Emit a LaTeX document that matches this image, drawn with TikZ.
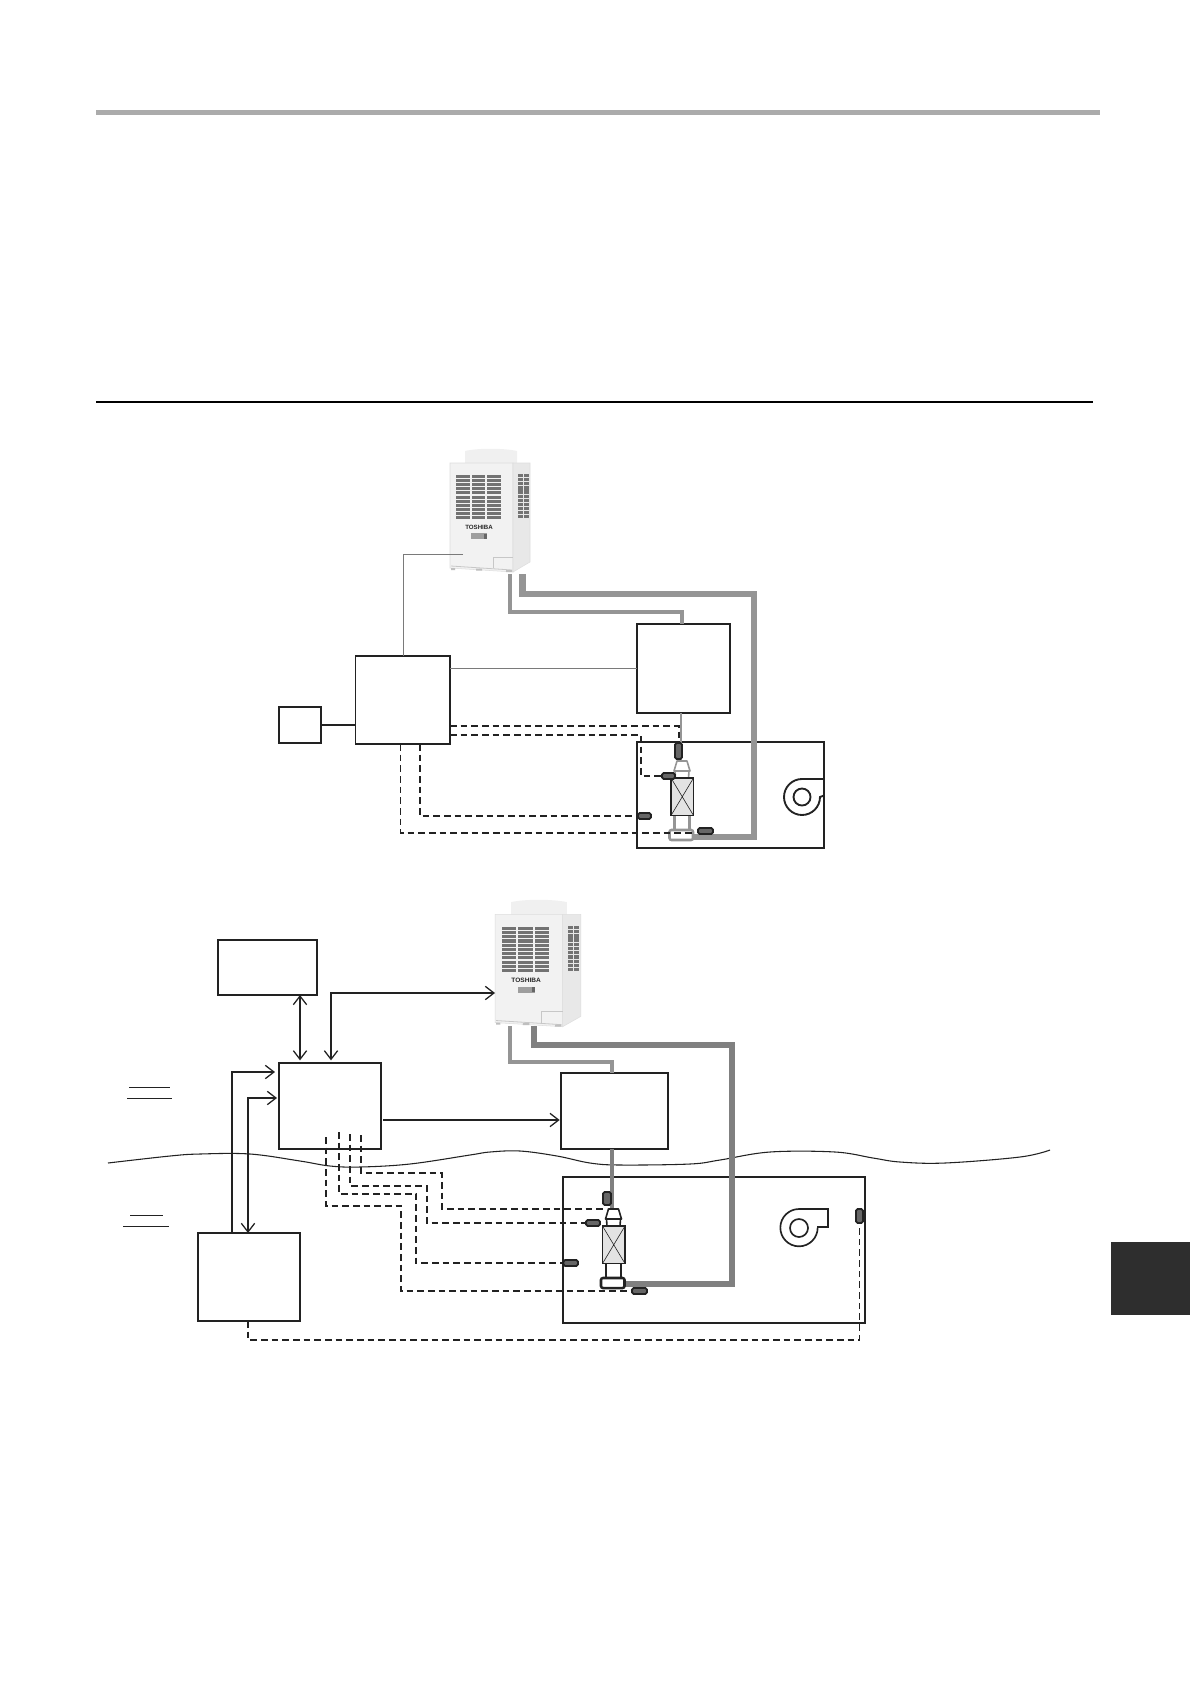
\documentclass[tikz,border=0pt]{standalone}
\usepackage{fontspec}
\setmainfont{Liberation Sans}
\usetikzlibrary{fit,arrows.meta}
\definecolor{pipeA}{HTML}{959595}
\definecolor{pipeB}{HTML}{808080}
\definecolor{ink}{HTML}{222222}
\colorlet{coilc}{ink}
\tikzset{
  barb/.tip={Straight Barb[length=6.5pt,width=10pt,line width=.95pt]},
  box/.style={draw=ink,line width=1.35pt,inner sep=0pt,outer sep=0pt,fill=white},
  sensor/.style={draw=ink,line width=1.4pt,fill=gray!80!black,rounded corners=1.2pt,inner sep=0pt,outer sep=0pt},
  dashline/.style={draw=ink,line width=.85pt,dash pattern=on 5pt off 3pt},
  dashheavy/.style={draw=ink,line width=1.1pt,dash pattern=on 5pt off 3pt},
  arrowline/.style={draw=ink,line width=.95pt},
  wire/.style={draw=black!52,line width=.75pt},
  odu/.pic={
    % cap
    \fill[black!6] (17,16) -- (17,3) .. controls (30,0) and (55,0) .. (69,3) -- (69,16) -- cycle;
    % faces
    \fill[black!5,draw=black!13,line width=.4pt] (2,15) -- (65,15) -- (65,124) -- (2,120) -- cycle;
    \fill[black!9,draw=black!13,line width=.4pt] (65,15) -- (82,15) -- (82,114) -- (65,124) -- cycle;
    % feet
    \draw[black!22,line width=.6pt] (3,118) -- (64,122);
    \fill[black!25] (3,120) rectangle (7,122) (58,122) rectangle (64,124) (28,120.5) rectangle (34,122.5);
    % access panel
    \draw[black!22,line width=.4pt] (45,120) -- (45,109) -- (65,109);
    % front grille
    \foreach \cx in {8,23.5,39}{
      \foreach \ry in {0,...,10}{
        \fill[black!55] (\cx,27+\ry*4.1) rectangle ++(13.5,3);
      }
    }
    % side grille
    \foreach \cx in {70,76}{
      \foreach \ry in {0,...,10}{
        \fill[black!55] (\cx,26+\ry*4.1) rectangle ++(4.6,3.2);
      }
    }
    \node[transform shape,font=\bfseries\fontsize{4.6}{5}\selectfont,text=black!85,inner sep=0pt] (-name) at (31,79) {TOSHIBA};
    \fill[black!38] (23,85) rectangle (39,91);
    \fill[black!60] (36,85.5) rectangle (39,90.5);
  },
  coilset/.pic={
    % cone
    \draw[coilc,line width=1.2pt,fill=white,line join=round] (-5,-17) -- (5,-17) -- (8,-7) -- (-8,-7) -- cycle;
    \draw[coilc,line width=1.2pt] (-7,-7) -- (-6.5,0) (7,-7) -- (6.5,0);
    % lower tubes and distributor
    \draw[coilc,line width=1.6pt] (-7.5,37) -- (-7.5,52) (7.5,37) -- (7.5,52);
    \draw[coilc,line width=1.9pt,fill=white,rounded corners=1.5pt] (-12.5,52) rectangle (11,62);
    % coil
    \draw[ink,line width=1.4pt,fill=black!11] (-11,0) rectangle (11.5,37.5);
    \draw[ink,line width=.45pt] (-11,0) -- (11.5,37.5) (11.5,0) -- (-11,37.5);
  },
}
\begin{document}
\begin{tikzpicture}[x=.75pt,y=-.75pt]
\fill[white] (0,0) rectangle (1190,1684);
\useasboundingbox (0,0) rectangle (1190,1684);

% page furniture
\fill[black!33] (96,109.5) rectangle (1100,114.5);
\draw[black,line width=1pt] (96,402) -- (1093,402);
\fill[black!82] (1111,1242) rectangle (1190,1315);

% ===== upper diagram =====
\pic (oduA) at (448,448) {odu};
\coordinate (oduAwire) at (463,554);
\coordinate (oduAthin) at (510,574);
\coordinate (oduAthick) at (522.7,574);

\node[box,fit={(355.5,656)(450,744)}] (ctrlA) {};
\node[box,fit={(279,707)(321,743)}] (smallA) {};
\node[box,fit={(637,624)(730,713)}] (unitA) {};
\node[box,fit={(637,742)(824,848)},fill=none] (ahuA) {};

% fan
\coordinate (fanA) at (802,797);
\draw[ink,line width=1.4pt] (fanA) circle (8.5*.75pt);
\draw[ink,line width=1.4pt] (ahuA.east |- 0,779) -- (802,779) arc[start angle=90,end angle=360,radius=13.5pt] -- (ahuA.east |- 0,795.5);

% pipes
\draw[pipeA,line width=2.6pt] (oduAthin) |- (682,612) -- (unitA.north -| 682,0);
\draw[pipeA,line width=5pt] (oduAthick) |- (754,594) |- (692,837);
\draw[pipeA,line width=2.2pt] (unitA.south -| 681,0) -- (681,762);
\draw[wire] (oduAwire) -| (ctrlA.north -| 403,0);
\draw[wire] (ctrlA.east |- 0,668) -- (unitA.west |- 0,668);
\draw[ink,line width=1.1pt] (smallA.east) -- (ctrlA.west |- smallA.east);

\colorlet{coilc}{pipeA}
\pic (coilA) at (682,778) {coilset};

\node[sensor,fit={(675,743)(682,759)}] (sA1) {};
\node[sensor,fit={(662,773)(675,779)}] (sA2) {};
\node[sensor,fit={(638,813)(651,819)}] (sA3) {};
\node[sensor,fit={(698,828)(713,834)}] (sA4) {};

\draw[dashline] (ctrlA.east |- 0,726) -| (sA1.north -| 679,0);
\draw[dashline] (ctrlA.east |- 0,735) -| (641,776) -- (sA2.west);
\draw[dashline] (ctrlA.south -| 420,0) |- (sA3.west);
\draw[dashheavy] (ctrlA.south -| 400.5,0) |- (692,833);

% ===== lower diagram =====
\pic[xscale=1.07,yscale=1.03] (oduB) at (493,899) {odu};
\coordinate (oduBarrow) at (495,993);
\coordinate (oduBthin) at (510,1026);
\coordinate (oduBthick) at (534,1026);

\node[box,fit={(218,940)(317,995)}] (mgr) {};
\node[box,fit={(279,1063)(381,1149)}] (ctrlB) {};
\node[box,fit={(198,1233)(300,1321)}] (rem) {};
\node[box,fit={(561,1073)(668,1149)}] (unitB) {};
\node[box,fit={(563,1177)(865,1323)},fill=none] (ahuB) {};

% boundary
\draw[ink,line width=.8pt] plot[smooth,tension=.6] coordinates {(108,1163) (170,1156) (200,1154) (250,1154) (300,1161) (330,1166) (360,1167) (410,1164) (470,1155) (490,1152) (520,1151) (557,1156) (590,1163) (620,1165) (690,1164) (720,1160) (770,1152) (835,1152) (873,1158) (900,1162) (945,1163) (1020,1157) (1050,1150)};

% fan
\coordinate (fanB) at (799,1228);
\draw[ink,line width=1.25pt] (fanB) circle (9*.75pt);
\draw[ink,line width=1.25pt] (817,1227) -- (828,1227) -- (828,1209) -- (799,1209) arc[start angle=90,end angle=360,radius=14pt];

% pipes
\draw[pipeA,line width=2.6pt] (oduBthin) |- (612,1062) -- (unitB.north -| 612,0);
\draw[pipeB,line width=5pt] (oduBthick) |- (732,1045) |- (625,1284);
\draw[pipeB,line width=2.4pt] (unitB.south -| 612,0) -- (612,1209);

\colorlet{coilc}{ink}
\pic (coilB) at (613.5,1226) {coilset};

\node[sensor,fit={(603,1192)(611,1205)}] (sB1) {};
\node[sensor,fit={(586,1220)(600,1226)}] (sB2) {};
\node[sensor,fit={(563.5,1260)(578,1266)}] (sB3) {};
\node[sensor,fit={(632,1288)(647,1294)}] (sB4) {};
\node[sensor,fit={(856,1209)(863,1223)}] (sB5) {};

% signal arrows
\draw[arrowline,barb-barb,shorten >=2pt] (mgr.south -| 300,0) -- (ctrlB.north -| 300,0);
\draw[arrowline,barb-barb,shorten <=2pt] (ctrlB.north -| 331,0) |- (oduBarrow);
\draw[arrowline,-barb,shorten <=1.5pt,shorten >=1pt] (ctrlB.east |- 0,1120) -- (unitB.west |- 0,1120);
\draw[arrowline,-barb,shorten >=3pt] (rem.north -| 232,0) |- (ctrlB.west |- 0,1072);
\draw[arrowline,barb-barb,shorten >=1.5pt] (rem.north -| 248,0) |- (ctrlB.west |- 0,1098);

% dashed wiring out of the controller
\coordinate (dA) at (326,1137);
\coordinate (dB) at (339,1132);
\coordinate (dC) at (350,1134);
\coordinate (dD) at (361,1135);
\draw[dashline] (dA) |- (401,1206) |- (sB4.west);
\draw[dashline] (dB) |- (416,1194) |- (sB3.west);
\draw[dashline] (dC) |- (427,1186) |- (sB2.west);
\draw[dashline] (dD) |- (442,1173) |- (607,1209);
\draw[dashline] (rem.south -| 248,0) |- (859.5,1340) -- (sB5.south);

% short rules at the left
\draw[ink,line width=.7pt] (129,1087) -- (170,1087);
\draw[ink,line width=.7pt] (127,1098) -- (172,1098);
\draw[ink,line width=.7pt] (130,1215) -- (163,1215);
\draw[ink,line width=.7pt] (123,1226) -- (169,1226);
\end{tikzpicture}
\end{document}
